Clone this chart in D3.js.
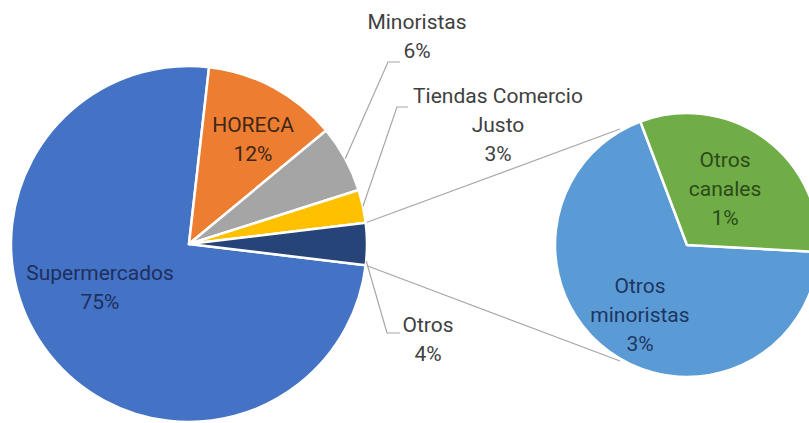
<!DOCTYPE html>
<html>
<head>
<meta charset="utf-8">
<script src="https://cdn.jsdelivr.net/npm/d3@7/dist/d3.min.js"></script>
<style>
  html, body { margin: 0; padding: 0; background: #ffffff; }
  svg { display: block; }
  text { font-family: Roboto, "Noto Sans", sans-serif; }
</style>
</head>
<body>
<svg id="chart" width="809" height="423"></svg>
<script>
// ---- DATA ----
const categories = ["Supermercados", "HORECA", "Minoristas", "Tiendas Comercio Justo", "Otros"];
const values = [74.9, 12.2, 6.1, 3.0, 3.8];
const subCategories = ["Otros minoristas", "Otros canales"];
const subValues = [2.6, 1.2];

// ---- LAYOUT / STYLE ----
const W = 809, H = 423;
const main = { cx: 189, cy: 244, r: 178 };
const sub = { cx: 687, cy: 245, r: 132, start: 93 };
const colors = ["#4472C4", "#ED7D31", "#A5A5A5", "#FFC000", "#264478"];
const subColors = ["#5B9BD5", "#70AD47"];
const fontSize = 21, lineH = 29;
const mainLabels = [
  { x: 100, y: 273, color: "#1e2f5e", maxW: 300 },
  { x: 253, y: 125, color: "#3d2718", maxW: 300 },
  { x: 417, y: 22, color: "#404040", maxW: 300, elbow: [388, 62], end: [400, 62], frac: 0.5 },
  { x: 498, y: 96, color: "#404040", maxW: 190, elbow: [397, 107], end: [408, 107], frac: 0.5 },
  { x: 428, y: 325, color: "#404040", maxW: 300, elbow: [387, 333], end: [400, 333], frac: 0.9 }
];
const subLabels = [
  { x: 640, y: 286, color: "#1d3660", maxW: 110 },
  { x: 725, y: 160, color: "#2c4a19", maxW: 90 }
];
const connAngles = [-30, 210];

const svg = d3.select("#chart");
const deg = Math.PI / 180;
const total = d3.sum(values);
const otrosIdx = values.length - 1;
const mStart = Math.PI / 2 + (values[otrosIdx] / total) * Math.PI;

const pie = d3.pie().sort(null).startAngle(mStart).endAngle(mStart + 2 * Math.PI);
const arcs = pie(values);
const arc = d3.arc().innerRadius(0).outerRadius(main.r);

const subPie = d3.pie().sort(null).startAngle(sub.start * deg).endAngle(sub.start * deg + 2 * Math.PI);
const subArcs = subPie(subValues);
const subArc = d3.arc().innerRadius(0).outerRadius(sub.r);

const polar = (c, r, a) => [c.cx + r * Math.sin(a), c.cy - r * Math.cos(a)];

// connector lines
const oa = arcs[otrosIdx];
const cA = [polar(main, main.r, oa.startAngle), polar(main, main.r, oa.endAngle)];
const cB = connAngles.map(a => polar(sub, sub.r + 2, a * deg));
svg.append("g").selectAll("line").data([0, 1]).join("line")
  .attr("x1", i => cA[i][0]).attr("y1", i => cA[i][1])
  .attr("x2", i => cB[i][0]).attr("y2", i => cB[i][1])
  .attr("stroke", "#a6a6a6").attr("stroke-width", 1.2);

// main pie
svg.append("g").attr("transform", `translate(${main.cx},${main.cy})`)
  .selectAll("path").data(arcs).join("path")
  .attr("d", arc).attr("fill", (d, i) => colors[i])
  .attr("stroke", "#ffffff").attr("stroke-width", 2.5).attr("stroke-linejoin", "round");

// sub pie
svg.append("g").attr("transform", `translate(${sub.cx},${sub.cy})`)
  .selectAll("path").data(subArcs).join("path")
  .attr("d", subArc).attr("fill", (d, i) => subColors[i])
  .attr("stroke", "#ffffff").attr("stroke-width", 2.5).attr("stroke-linejoin", "round");

// leader lines
arcs.forEach((d, i) => {
  const L = mainLabels[i];
  if (!L.elbow) return;
  const a = d.startAngle + (d.endAngle - d.startAngle) * L.frac;
  const p = polar(main, main.r, a);
  svg.append("path")
    .attr("d", d3.line()([p, L.elbow, L.end]))
    .attr("fill", "none").attr("stroke", "#a6a6a6").attr("stroke-width", 1.2);
});

// labels
const fmt = v => Math.round(v) + "%";
function drawLabel(name, value, L) {
  const t = svg.append("text").attr("text-anchor", "middle")
    .attr("font-size", fontSize).attr("fill", L.color);
  // wrap words by max width
  const words = name.split(" ");
  const lines = [];
  let cur = [];
  const probe = svg.append("text").attr("font-size", fontSize);
  words.forEach(w => {
    const test = cur.concat([w]).join(" ");
    probe.text(test);
    if (cur.length && probe.node().getComputedTextLength() > L.maxW) {
      lines.push(cur.join(" "));
      cur = [w];
    } else cur.push(w);
  });
  lines.push(cur.join(" "));
  probe.remove();
  lines.push(fmt(value));
  lines.forEach((ln, k) => {
    t.append("tspan").attr("x", L.x).attr("y", L.y + k * lineH)
      .attr("dominant-baseline", "central").text(ln);
  });
}
categories.forEach((c, i) => drawLabel(c, values[i], mainLabels[i]));
subCategories.forEach((c, i) => drawLabel(c, subValues[i], subLabels[i]));
</script>
</body>
</html>
